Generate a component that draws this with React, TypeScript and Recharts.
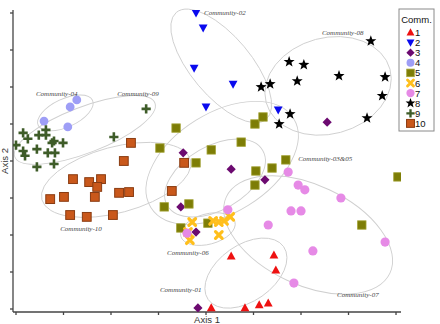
import React from 'react';
import { ScatterChart, Scatter, XAxis, YAxis, ReferenceArea, Label } from 'recharts';

// Ordination scores per community (Axis 1, Axis 2)
const comm1 = [[4.11, 0.03], [4.53, 1.43], [5.43, 1.46], [5.47, 1.05], [4.82, 0.03], [5.12, 0.11], [5.31, 0.16]];
const comm2 = [[3.79, 8.0], [3.94, 7.6], [3.75, 6.51], [4.0, 5.46], [4.57, 6.08], [5.52, 5.38]];
const comm3 = [[3.52, 4.22], [4.53, 3.78], [5.24, 3.49], [3.47, 2.76], [3.79, 2.08], [3.83, 0.03], [6.55, 5.05]];
const comm4 = [[1.28, 5.65], [1.14, 5.46], [0.59, 5.08], [1.09, 4.92]];
const comm5 = [
  [3.37, 4.89], [3.03, 4.35], [4.11, 4.3], [3.79, 3.95], [4.74, 4.51], [5.03, 5.0], [5.2, 5.19],
  [5.68, 4.03], [5.39, 3.81], [5.05, 3.73], [5.03, 3.35], [3.12, 2.76], [3.64, 2.84], [3.47, 2.19],
  [4.04, 2.32], [8.04, 3.57], [7.28, 2.27],
];
const comm6 = [[3.71, 2.35], [4.15, 2.38], [4.27, 2.35], [4.38, 2.38], [4.51, 2.49], [4.27, 2.0], [3.62, 2.08], [3.66, 1.86]];
const comm7 = [
  [5.73, 3.7], [5.94, 3.35], [6.08, 3.22], [6.84, 3.0], [5.79, 2.65], [6.0, 2.65], [5.31, 2.27],
  [4.46, 2.68], [6.25, 1.57], [7.77, 1.81], [5.85, 0.7], [3.6, 2.05],
];
const comm8 = [
  [7.47, 7.24], [5.75, 6.68], [6.06, 6.6], [5.92, 6.16], [6.8, 6.3], [7.77, 6.27], [7.71, 5.76],
  [5.35, 6.08], [5.16, 6.0], [5.77, 5.27], [5.54, 5.0], [7.39, 5.16],
];
const comm9 = [
  [2.74, 5.41], [2.06, 4.65], [0.15, 4.76], [0.25, 4.6], [0.48, 4.7], [0.63, 4.84], [0.63, 4.7],
  [0.76, 4.49], [0.8, 4.54], [0.99, 4.49], [0.0, 4.43], [0.44, 4.32], [0.15, 4.27], [0.19, 4.14],
  [0.67, 4.22], [0.82, 4.22], [0.44, 3.84], [0.8, 3.92],
];
const comm10 = [
  [2.42, 4.49], [2.27, 4.0], [1.2, 3.51], [1.54, 3.43], [1.79, 3.51], [1.71, 3.3], [0.72, 2.97],
  [1.01, 3.03], [1.66, 3.03], [2.17, 3.14], [2.38, 3.16], [1.14, 2.54], [1.49, 2.49], [2.04, 2.54],
  [3.28, 3.19], [3.54, 3.95],
];

const communityNames = ['1', '2', '3', '4', '5', '6', '7', '8', '9', '10'];

// Community ellipses: centre, semi-axes (axis units) and tilt in degrees
const ellipseCx = [4.32, 6.57, 4.34, 4.19, 1.04, 1.45, 2.11, 4.04, 4.84, 6.15];
const ellipseCy = [6.57, 6.03, 3.95, 3.54, 5.3, 4.84, 3.49, 2.16, 0.97, 2.0];
const ellipseA = [1.47, 1.35, 1.77, 1.16, 0.63, 1.58, 1.62, 0.59, 0.97, 1.9];
const ellipseB = [0.81, 1.3, 1.35, 0.86, 0.38, 0.62, 0.89, 0.41, 0.76, 1.35];
const ellipseTilt = [50, -15, -32, -30, -25, -21, -15, -15, -35, 25];

// Community annotation labels
const labelText = [
  'Community-02', 'Community-08', 'Community-03&05', 'Community-04', 'Community-09',
  'Community-10', 'Community-06', 'Community-01', 'Community-07',
];
const labelX = [3.96, 6.44, 5.94, 0.42, 2.13, 0.93, 3.18, 3.03, 6.76];
const labelY = [7.95, 7.41, 4.0, 5.76, 5.76, 2.11, 1.46, 0.46, 0.32];

const axisTicks = [0, 1, 2, 3, 4, 5, 6, 7, 8];

type Kind = 'up' | 'down' | 'diamond' | 'lav' | 'olive' | 'x' | 'pink' | 'star' | 'plus' | 'orange';
const kinds: Kind[] = ['up', 'down', 'diamond', 'lav', 'olive', 'x', 'pink', 'star', 'plus', 'orange'];
const groups = [comm1, comm2, comm3, comm4, comm5, comm6, comm7, comm8, comm9, comm10];

const series = groups.map((g, i) => ({
  name: communityNames[i],
  kind: kinds[i],
  data: g.map(([x, y]) => ({ x, y })),
}));

const ellipses = ellipseCx.map((cx, i) => ({
  cx, cy: ellipseCy[i], a: ellipseA[i], b: ellipseB[i], tilt: ellipseTilt[i],
}));

const labels = labelText.map((name, i) => ({ name, x: labelX[i], y: labelY[i] }));

function starPoints(cx: number, cy: number, ro: number, ri: number) {
  const pts: string[] = [];
  for (let k = 0; k < 10; k++) {
    const r = k % 2 === 0 ? ro : ri;
    const ang = -Math.PI / 2 + (k * Math.PI) / 5;
    pts.push(`${cx + r * Math.cos(ang)},${cy + r * Math.sin(ang)}`);
  }
  return pts.join(' ');
}

function Marker({ kind, cx, cy, s = 1 }: { kind: Kind; cx: number; cy: number; s?: number }) {
  switch (kind) {
    case 'up':
      return <polygon points={`${cx},${cy - 4.6 * s} ${cx + 4.4 * s},${cy + 3.4 * s} ${cx - 4.4 * s},${cy + 3.4 * s}`} fill="#ee1111" />;
    case 'down':
      return <polygon points={`${cx - 4.4 * s},${cy - 3.4 * s} ${cx + 4.4 * s},${cy - 3.4 * s} ${cx},${cy + 4.6 * s}`} fill="#0a0aee" />;
    case 'diamond':
      return <polygon points={`${cx},${cy - 4.6 * s} ${cx + 4.6 * s},${cy} ${cx},${cy + 4.6 * s} ${cx - 4.6 * s},${cy}`} fill="#6c0a70" />;
    case 'lav':
      return <circle cx={cx} cy={cy} r={4.4 * s} fill="#9e9ef6" />;
    case 'olive':
      return <rect x={cx - 4.2 * s} y={cy - 4.2 * s} width={8.4 * s} height={8.4 * s} fill="#7d7d06" stroke="#a2a234" strokeWidth={0.8} />;
    case 'x':
      return (
        <path
          d={`M${cx - 3.3 * s},${cy - 3.3 * s}L${cx + 3.3 * s},${cy + 3.3 * s}M${cx + 3.3 * s},${cy - 3.3 * s}L${cx - 3.3 * s},${cy + 3.3 * s}`}
          stroke="#ffbf1c" strokeWidth={3.2 * s} strokeLinecap="round" fill="none"
        />
      );
    case 'pink':
      return <circle cx={cx} cy={cy} r={4.6 * s} fill="#e68ae6" />;
    case 'star':
      return <polygon points={starPoints(cx, cy, 5.8 * s, 2.4 * s)} fill="#000" />;
    case 'plus':
      return (
        <path
          d={`M${cx - 4.6 * s},${cy}L${cx + 4.6 * s},${cy}M${cx},${cy - 4.6 * s}L${cx},${cy + 4.6 * s}`}
          stroke="#3e5c28" strokeWidth={2.6 * s} fill="none"
        />
      );
    case 'orange':
      return <rect x={cx - 4.4 * s} y={cy - 4.4 * s} width={8.8 * s} height={8.8 * s} fill="#c9581b" stroke="#8a3c12" strokeWidth={1} />;
  }
  return null;
}

function LegendBox() {
  return (
    <svg width={37} height={124} style={{ position: 'absolute', left: 398, top: 8 }}>
      <rect x={1} y={1} width={35} height={122} fill="#fff" stroke="#8a8a8a" strokeWidth={1} />
      <text x={18.5} y={14.5} textAnchor="middle" fontSize={9.5} fontFamily="Liberation Sans, Arial, sans-serif" fill="#111">
        Comm.
      </text>
      {series.map((s, i) => (
        <g key={s.name}>
          <Marker kind={s.kind} cx={12.5} cy={24.5 + i * 10.1} s={0.9} />
          <text x={17} y={28 + i * 10.1} fontSize={9.5} fontFamily="Liberation Sans, Arial, sans-serif" fill="#111">
            {s.name}
          </text>
        </g>
      ))}
    </svg>
  );
}

export default function App() {
  return (
    <div style={{ position: 'absolute', left: 0, top: 0, width: 440, height: 324, background: '#fff' }}>
      <ScatterChart width={440} height={324} margin={{ top: 10, right: 39, bottom: 11, left: 12 }}>
        <XAxis
          type="number"
          dataKey="x"
          domain={[-0.063, 8.105]}
          allowDataOverflow
          ticks={axisTicks}
          tickFormatter={() => ''}
          height={1}
          tickSize={3}
          stroke="#444"
          strokeWidth={1.3}
        >
          <Label
            content={(p: any) => {
              const vb = p.viewBox || { x: 13, y: 312, width: 388, height: 1 };
              return (
                <text x={vb.x + vb.width / 2} y={323} textAnchor="middle" fontSize={9.5}
                  fontFamily="Liberation Sans, Arial, sans-serif" fill="#333">
                  Axis 1
                </text>
              );
            }}
          />
        </XAxis>
        <YAxis
          type="number"
          dataKey="y"
          domain={[-0.081, 8.081]}
          allowDataOverflow
          ticks={axisTicks}
          tickFormatter={() => ''}
          width={1}
          tickSize={3}
          stroke="#444"
          strokeWidth={1.3}
        >
          <Label
            content={(p: any) => {
              const vb = p.viewBox || { x: 12, y: 10, width: 1, height: 302 };
              const tx = 8;
              const ty = vb.y + vb.height / 2;
              return (
                <text x={tx} y={ty} textAnchor="middle" fontSize={9.5} transform={`rotate(-90 ${tx} ${ty})`}
                  fontFamily="Liberation Sans, Arial, sans-serif" fill="#333">
                  Axis 2
                </text>
              );
            }}
          />
        </YAxis>

        {ellipses.map((e, i) => (
          <ReferenceArea
            key={`ell-${i}`}
            x1={e.cx - e.a}
            x2={e.cx + e.a}
            y1={e.cy - e.b}
            y2={e.cy + e.b}
            ifOverflow="visible"
            shape={(p: any) => {
              const cx = p.x + p.width / 2;
              const cy = p.y + p.height / 2;
              return (
                <ellipse cx={cx} cy={cy} rx={Math.abs(p.width) / 2} ry={Math.abs(p.height) / 2}
                  transform={`rotate(${e.tilt} ${cx} ${cy})`} fill="none" stroke="#cfcfcf" strokeWidth={0.9} />
              );
            }}
          />
        ))}

        {series.map((s) => (
          <Scatter
            key={s.name}
            name={s.name}
            data={s.data}
            isAnimationActive={false}
            shape={(p: any) => <Marker kind={s.kind} cx={p.cx} cy={p.cy} />}
          />
        ))}

        <Scatter
          name="labels"
          data={labels}
          isAnimationActive={false}
          shape={(p: any) => (
            <text x={p.cx} y={p.cy} fontSize={7} fontStyle="italic"
              fontFamily="Liberation Serif, Times New Roman, serif" fill="#444">
              {p.payload.name}
            </text>
          )}
        />
      </ScatterChart>
      <LegendBox />
    </div>
  );
}
